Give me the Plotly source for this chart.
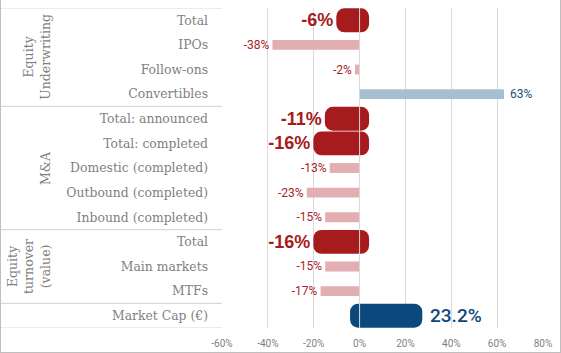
import plotly.graph_objects as go

# ---------------- data ----------------
categories = [
    "Total", "IPOs", "Follow-ons", "Convertibles",
    "Total: announced", "Total: completed", "Domestic (completed)",
    "Outbound (completed)", "Inbound (completed)",
    "Total", "Main markets", "MTFs",
    "Market Cap (€)",
]
values = [-6, -38, -2, 63, -11, -16, -13, -23, -15, -16, -15, -17, 23.2]
highlight = [True, False, False, False, True, True, False, False, False,
             True, False, False, True]
group_names = ["Equity<br>Underwriting", "M&A", "Equity<br>turnover<br>(value)"]
group_first = [0, 4, 9]
group_last = [3, 8, 11]
tick_values = [-60, -40, -20, 0, 20, 40, 60, 80]
tick_text = ["-60%", "-40%", "-20%", "0%", "20%", "40%", "60%", "80%"]

# ---------------- layout constants ----------------
W, H = 561, 353
ML, MR, MT, MB = 222, 18, 8, 25
PW, PH = W - ML - MR, H - MT - MB
X_MIN, X_MAX = -60, 80


def px_x(p):
    return (p - ML) / PW


def px_y(p):
    return 1 - (p - MT) / PH


DARK_RED = "#A61B1D"
PINK = "#E2AEB1"
LIGHT_BLUE = "#A7BFD3"
DARK_BLUE = "#0B497D"
LABEL_RED = "#A8232A"
LABEL_BLUE = "#1F4E79"
GRID = "#D9D9D9"
TEXT_GREY = "#7F7F7F"

labels = [f"{v:g}%" for v in values]

fig = go.Figure()

# small (regular) bars
small = [i for i, h in enumerate(highlight) if not h]
fig.add_trace(go.Bar(
    orientation="h",
    x=[values[i] for i in small],
    y=small,
    width=0.4,
    marker=dict(color=[PINK if values[i] < 0 else LIGHT_BLUE for i in small],
                line=dict(width=0)),
    text=[labels[i] if values[i] < 0 else "\u00a0" + labels[i] for i in small],
    textposition="outside",
    constraintext="none",
    outsidetextfont=dict(family="Roboto", size=12,
                         color=[LABEL_RED if values[i] < 0 else LABEL_BLUE for i in small]),
    cliponaxis=False,
    hoverinfo="skip",
))

# highlighted bars: rounded capsules padded around the value
PAD = 9.5 * (X_MAX - X_MIN) / PW  # ~9.5 px of padding, in axis units
for sign, col, font in [
    (-1, DARK_RED, dict(family="Liberation Sans", size=18, color=DARK_RED, weight="bold")),
    (1, DARK_BLUE, dict(family="Roboto", size=19, color=DARK_BLUE, weight=500)),
]:
    idx = [i for i, h in enumerate(highlight) if h and (values[i] < 0) == (sign < 0)]
    if not idx:
        continue
    lo = [min(values[i], 0) - PAD for i in idx]
    hi = [max(values[i], 0) + PAD for i in idx]
    outer = lo if sign < 0 else hi   # end carrying the value label
    inner = hi if sign < 0 else lo   # end at the zero side
    fig.add_trace(go.Bar(
        orientation="h",
        base=inner,
        x=[o - n for o, n in zip(outer, inner)],
        y=idx,
        width=0.97,
        marker=dict(color=col, line=dict(width=0), cornerradius=8),
        text=[("\u00a0" if sign > 0 else "") + labels[i] for i in idx],
        textposition="outside",
        constraintext="none",
        outsidetextfont=font,
        cliponaxis=False,
        hoverinfo="skip",
    ))

shapes = []
# zero line drawn over the bars
shapes.append(dict(type="line", xref="x", yref="paper", x0=0, x1=0, y0=0, y1=1,
                   line=dict(color=GRID, width=1), layer="above"))
# table horizontal lines
for yb in [-0.5, 3.5, 8.5, 11.5, 12.5]:
    shapes.append(dict(type="line", xref="paper", yref="y", x0=px_x(1), x1=0,
                       y0=yb, y1=yb, line=dict(color=GRID, width=1.2), layer="below"))
# figure border (left, right, bottom)
BORDER = "#BFBFBF"
shapes.append(dict(type="line", xref="paper", yref="paper", x0=px_x(0.5), x1=px_x(0.5),
                   y0=px_y(0), y1=px_y(H - 0.5), line=dict(color=BORDER, width=1)))
shapes.append(dict(type="line", xref="paper", yref="paper", x0=px_x(W - 0.5), x1=px_x(W - 0.5),
                   y0=px_y(0), y1=px_y(H - 0.5), line=dict(color=BORDER, width=1)))
shapes.append(dict(type="line", xref="paper", yref="paper", x0=px_x(0), x1=px_x(W),
                   y0=px_y(H - 0.5), y1=px_y(H - 0.5), line=dict(color=BORDER, width=1)))

# group labels
group_x = [36.5, 45, 29.5]
annotations = []
for name, a, b, gx in zip(group_names, group_first, group_last, group_x):
    annotations.append(dict(
        text=name, xref="paper", yref="y", x=0, xshift=gx - ML, y=(a + b) / 2,
        xanchor="center", yanchor="middle", textangle=-90, showarrow=False,
        font=dict(family="DejaVu Serif", size=12.5, color=TEXT_GREY),
    ))

fig.update_layout(
    width=W, height=H,
    margin=dict(l=ML, r=MR, t=MT, b=MB, pad=0, autoexpand=False),
    paper_bgcolor="white", plot_bgcolor="white",
    barmode="overlay",
    showlegend=False,
    shapes=shapes,
    annotations=annotations,
    xaxis=dict(
        range=[X_MIN, X_MAX], tickvals=tick_values, ticktext=tick_text,
        showgrid=True, gridcolor=GRID, gridwidth=1, zeroline=False,
        showline=False, ticks="outside", ticklen=6, tickcolor="rgba(0,0,0,0)",
        tickfont=dict(family="Roboto", size=10, color=TEXT_GREY),
        automargin=False, fixedrange=True,
    ),
    yaxis=dict(
        range=[12.5, -0.5], tickvals=list(range(len(categories))), ticktext=categories,
        showgrid=False, zeroline=False, showline=False, ticks="",
        ticklabelstandoff=13,
        tickfont=dict(family="DejaVu Serif", size=12.4, color=TEXT_GREY),
        automargin=False, fixedrange=True,
    ),
)

fig.write_html("out.html")
